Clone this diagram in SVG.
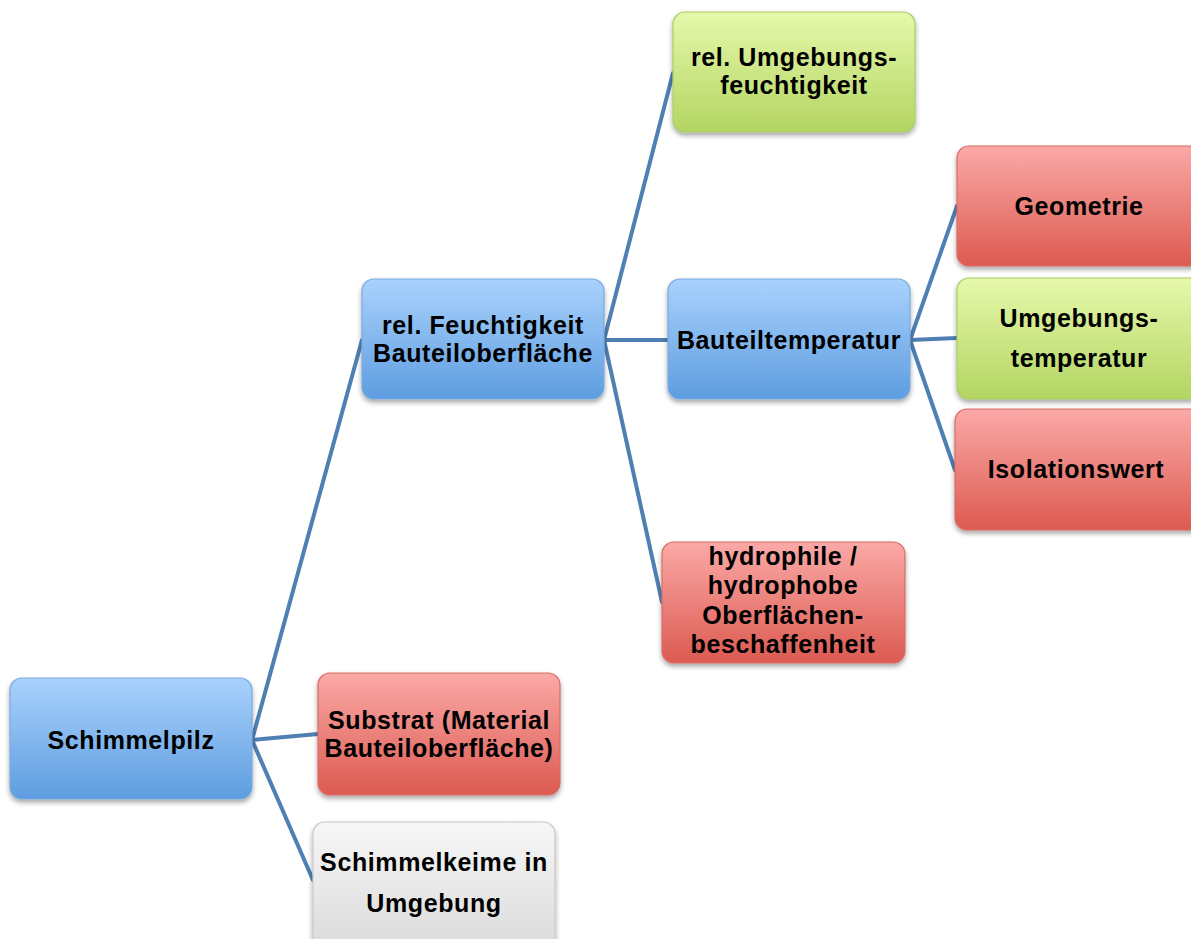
<svg xmlns="http://www.w3.org/2000/svg" width="1191" height="939" viewBox="0 0 1191 939">
<defs>
<linearGradient id="gBlue" x1="0" y1="0" x2="0" y2="1"><stop offset="0" stop-color="#a9d2fd"/><stop offset="1" stop-color="#5e9de0"/></linearGradient>
<linearGradient id="gGreen" x1="0" y1="0" x2="0" y2="1"><stop offset="0" stop-color="#e6f8aa"/><stop offset="1" stop-color="#b3d562"/></linearGradient>
<linearGradient id="gRed" x1="0" y1="0" x2="0" y2="1"><stop offset="0" stop-color="#fba9a7"/><stop offset="1" stop-color="#dc5a50"/></linearGradient>
<linearGradient id="gGray" x1="0" y1="0" x2="0" y2="1"><stop offset="0" stop-color="#f7f7f7"/><stop offset="1" stop-color="#dadada"/></linearGradient>
<filter id="sh" x="-10%" y="-10%" width="120%" height="130%"><feDropShadow dx="0" dy="3" stdDeviation="2.5" flood-color="#000" flood-opacity="0.35"/></filter>
</defs>
<style>
.box{filter:url(#sh);stroke-width:1.2}
.blue{fill:url(#gBlue);stroke:#7aa9de}
.green{fill:url(#gGreen);stroke:#a8cc66}
.red{fill:url(#gRed);stroke:#d86c66}
.gray{fill:url(#gGray);stroke:#c8c8c8}
text{font-family:"Liberation Sans",Arial,sans-serif;font-weight:bold;font-size:25px;letter-spacing:0.6px;fill:#000;text-anchor:middle}
.conn line{stroke:#4f7fb3;stroke-width:4;stroke-linecap:round}
</style>
<g class="conn" id="connectors">
<line x1="252" y1="740" x2="362" y2="340"/>
<line x1="252" y1="740" x2="318" y2="734"/>
<line x1="252" y1="740" x2="313" y2="880"/>
<line x1="604" y1="340" x2="673" y2="73"/>
<line x1="604" y1="340" x2="668" y2="340"/>
<line x1="604" y1="340" x2="662" y2="602"/>
<line x1="910" y1="340" x2="957" y2="206"/>
<line x1="910" y1="340" x2="957" y2="338"/>
<line x1="910" y1="340" x2="955" y2="470"/>
</g>
<g id="n-schimmelpilz"><rect class="box blue" x="10" y="678" width="242" height="121" rx="12"/><text x="131" y="749">Schimmelpilz</text></g>
<g id="n-relfeucht"><rect class="box blue" x="362" y="279" width="242" height="120" rx="12"/><text x="483" y="334">rel. Feuchtigkeit</text><text x="483" y="362">Bauteiloberfläche</text></g>
<g id="n-umgfeucht"><rect class="box green" x="673" y="12" width="242" height="120" rx="12"/><text x="794" y="66">rel. Umgebungs-</text><text x="794" y="94">feuchtigkeit</text></g>
<g id="n-bauteiltemp"><rect class="box blue" x="668" y="279" width="242" height="120" rx="12"/><text x="789" y="349">Bauteiltemperatur</text></g>
<g id="n-geometrie"><rect class="box red" x="957" y="146" width="246" height="120" rx="12"/><text x="1079" y="215">Geometrie</text></g>
<g id="n-umgtemp"><rect class="box green" x="957" y="278" width="246" height="121" rx="12"/><text x="1079" y="327">Umgebungs-</text><text x="1079" y="367">temperatur</text></g>
<g id="n-isolation"><rect class="box red" x="955" y="409" width="248" height="121" rx="12"/><text x="1076" y="478">Isolationswert</text></g>
<g id="n-hydro"><rect class="box red" x="662" y="542" width="243" height="121" rx="12"/><text x="783" y="565">hydrophile /</text><text x="783" y="594">hydrophobe</text><text x="783" y="624">Oberflächen-</text><text x="783" y="653">beschaffenheit</text></g>
<g id="n-substrat"><rect class="box red" x="318" y="673" width="242" height="122" rx="12"/><text x="439" y="729">Substrat (Material</text><text x="439" y="757">Bauteiloberfläche)</text></g>
<g id="n-keime"><rect class="box gray" x="313" y="822" width="242" height="130" rx="12"/><text x="434" y="871">Schimmelkeime in</text><text x="434" y="912">Umgebung</text></g>
</svg>
